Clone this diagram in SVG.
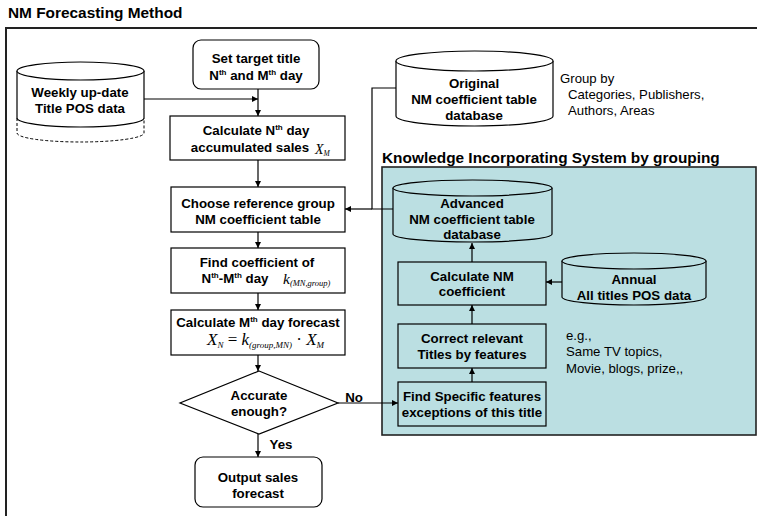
<svg xmlns="http://www.w3.org/2000/svg" width="757" height="516" viewBox="0 0 757 516">
  <style>
    .b { font-family: "Liberation Sans", Arial, sans-serif; font-weight: bold; font-size: 13.3px; fill: #000; text-anchor: middle; }
    .r { font-family: "Liberation Sans", Arial, sans-serif; font-size: 13.2px; fill: #000; }
    .h { font-family: "Liberation Sans", Arial, sans-serif; font-weight: bold; font-size: 15.4px; fill: #000; }
    .m { font-family: "Liberation Serif", "Times New Roman", serif; font-style: italic; fill: #000; }
    .box { fill: #fff; stroke: #000; stroke-width: 1.2; }
    .tbox { fill: #bbdfe2; stroke: #000; stroke-width: 1.2; }
    .cyl { fill: #fff; stroke: #000; stroke-width: 1.2; }
    .tcyl { fill: #bbdfe2; stroke: #000; stroke-width: 1.2; }
    .dash { fill: none; stroke: #000; stroke-width: 1; stroke-dasharray: 3 2; }
    .ln { fill: none; stroke: #000; stroke-width: 1.2; }
    .arr { fill: none; stroke: #000; stroke-width: 1.2; marker-end: url(#ah); }
  </style>
  <defs>
    <marker id="ah" viewBox="0 0 10 10" refX="10" refY="5" markerWidth="6" markerHeight="6" markerUnits="userSpaceOnUse" orient="auto">
      <path d="M0,0 L10,5 L0,10 z" fill="#000"/>
    </marker>
  </defs>

  <!-- frame and heading -->
  <g id="frame">
    <text class="h" x="8" y="18">NM Forecasting Method</text>
    <path d="M6,516 L6,28 L757,28" fill="none" stroke="#222" stroke-width="2"/>
  </g>

  <!-- knowledge panel -->
  <g id="knowledge-panel">
    <text class="h" x="382" y="163">Knowledge Incorporating System by grouping</text>
    <rect x="382" y="167" width="374" height="268" fill="#bbdfe2" stroke="#222" stroke-width="1.6"/>
  </g>

  <!-- connectors -->
  <g id="connectors">
    <path class="arr" d="M144,99 L258,99"/>
    <path class="arr" d="M258,89 L258,116"/>
    <path class="arr" d="M258,160 L258,187"/>
    <path class="arr" d="M258,232 L258,248"/>
    <path class="arr" d="M258,293 L258,310"/>
    <path class="arr" d="M258,355 L258,371"/>
    <path class="arr" d="M258,434 L258,457"/>
    <path class="arr" d="M338,403 L398,403"/>
    <path class="ln" d="M396,88 L372,88 L372,209 L393,209"/>
    <path class="arr" d="M372,209 L345,209"/>
    <path class="arr" d="M472,262 L472,243"/>
    <path class="arr" d="M562,282 L546,282"/>
    <path class="arr" d="M472,324 L472,305"/>
    <path class="arr" d="M472,382 L472,368"/>
    <text class="b" x="354" y="402">No</text>
    <text class="b" x="281" y="449">Yes</text>
  </g>

  <!-- left column -->
  <g id="weekly-pos">
    <path class="cyl" d="M17,71 L17,118 A63.5,9 0 0 0 144,118 L144,71"/>
    <ellipse class="cyl" cx="80.5" cy="71" rx="63.5" ry="9"/>
    <path class="dash" d="M17,118 L17,133 A63.5,9 0 0 0 144,133 L144,118"/>
    <text class="b" x="80" y="97">Weekly up-date</text>
    <text class="b" x="80" y="113">Title POS data</text>
  </g>

  <g id="set-target">
    <rect class="box" x="193" y="40" width="126" height="49" rx="8"/>
    <text class="b" x="256" y="63">Set target title</text>
    <text class="b" x="256" y="80">N<tspan font-size="8" dy="-5">th</tspan><tspan dy="5"> and M</tspan><tspan font-size="8" dy="-5">th</tspan><tspan dy="5"> day</tspan></text>
  </g>

  <g id="calc-nth">
    <rect class="box" x="170" y="116" width="175" height="44"/>
    <text class="b" x="256" y="135">Calculate N<tspan font-size="8" dy="-5">th</tspan><tspan dy="5"> day</tspan></text>
    <text class="b" x="250" y="152">accumulated sales</text>
    <text class="m" x="315" y="154" font-size="14">X<tspan font-size="7.5" dy="2">M</tspan></text>
  </g>

  <g id="choose-group">
    <rect class="box" x="171" y="187" width="174" height="45"/>
    <text class="b" x="258" y="208">Choose reference group</text>
    <text class="b" x="258" y="224">NM coefficient table</text>
  </g>

  <g id="find-coef">
    <rect class="box" x="171" y="248" width="174" height="45"/>
    <text class="b" x="257" y="267">Find coefficient of</text>
    <text class="b" x="235" y="283">N<tspan font-size="8" dy="-5">th</tspan><tspan dy="5">-M</tspan><tspan font-size="8" dy="-5">th</tspan><tspan dy="5"> day</tspan></text>
    <text class="m" x="283" y="284" font-size="15.5">k<tspan font-size="8.5" dy="2">(MN,group)</tspan></text>
  </g>

  <g id="calc-mth">
    <rect class="box" x="171" y="310" width="174" height="45"/>
    <text class="b" x="258" y="327">Calculate M<tspan font-size="8" dy="-5">th</tspan><tspan dy="5"> day forecast</tspan></text>
    <text class="m" x="207" y="345" font-size="17">X<tspan font-size="9" dy="3">N</tspan><tspan dy="-3" font-style="normal"> = </tspan><tspan>k</tspan><tspan font-size="9" dy="3">(group,MN)</tspan><tspan dy="-3" font-style="normal"> · </tspan><tspan>X</tspan><tspan font-size="9" dy="3">M</tspan></text>
  </g>

  <g id="accurate">
    <polygon class="box" points="259,371 338,403 259,434 180,403"/>
    <text class="b" x="259" y="400">Accurate</text>
    <text class="b" x="259" y="416">enough?</text>
  </g>

  <g id="output">
    <rect class="box" x="195" y="457" width="127" height="50" rx="8"/>
    <text class="b" x="258" y="482">Output sales</text>
    <text class="b" x="258" y="498">forecast</text>
  </g>

  <!-- right column -->
  <g id="original-db">
    <path class="cyl" d="M396,61 L396,116 A78.5,10 0 0 0 553,116 L553,61"/>
    <ellipse class="cyl" cx="474.5" cy="61" rx="78.5" ry="10"/>
    <text class="b" x="474" y="88">Original</text>
    <text class="b" x="474" y="104">NM coefficient table</text>
    <text class="b" x="474" y="120">database</text>
  </g>

  <g id="group-note">
    <text class="r" x="560" y="83">Group by</text>
    <text class="r" x="568" y="99">Categories, Publishers,</text>
    <text class="r" x="568" y="115">Authors, Areas</text>
  </g>

  <g id="advanced-db">
    <path class="tcyl" d="M393,188 L393,234 A79.5,8 0 0 0 552,234 L552,188"/>
    <ellipse class="tcyl" cx="472.5" cy="188" rx="79.5" ry="8"/>
    <text class="b" x="472" y="208">Advanced</text>
    <text class="b" x="472" y="224">NM coefficient table</text>
    <text class="b" x="472" y="239">database</text>
  </g>

  <g id="calc-nm">
    <rect class="tbox" x="398" y="262" width="148" height="43"/>
    <text class="b" x="472" y="281">Calculate NM</text>
    <text class="b" x="472" y="296">coefficient</text>
  </g>

  <g id="annual-db">
    <path class="tcyl" d="M562,261 L562,297 A72,8 0 0 0 706,297 L706,261"/>
    <ellipse class="tcyl" cx="634" cy="261" rx="72" ry="8"/>
    <text class="b" x="634" y="284">Annual</text>
    <text class="b" x="634" y="300">All titles POS data</text>
  </g>

  <g id="correct-titles">
    <rect class="tbox" x="398" y="324" width="148" height="44"/>
    <text class="b" x="472" y="343">Correct relevant</text>
    <text class="b" x="472" y="359">Titles by features</text>
  </g>

  <g id="find-features">
    <rect class="tbox" x="398" y="382" width="148" height="44"/>
    <text class="b" x="472" y="401">Find Specific features</text>
    <text class="b" x="472" y="417">exceptions of this title</text>
  </g>

  <g id="example-note">
    <text class="r" x="566" y="340">e.g.,</text>
    <text class="r" x="566" y="356">Same TV topics,</text>
    <text class="r" x="566" y="373">Movie, blogs, prize,,</text>
  </g>
</svg>
